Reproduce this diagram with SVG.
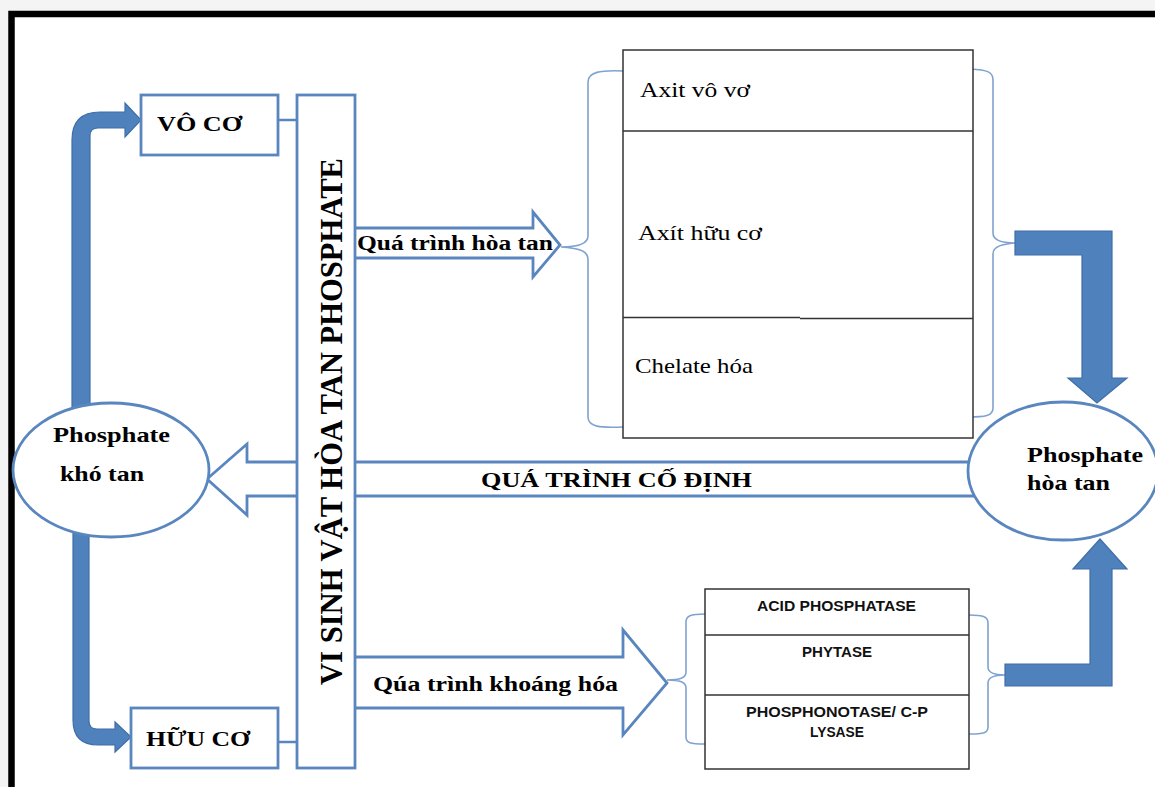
<svg xmlns="http://www.w3.org/2000/svg" width="1155" height="787" viewBox="0 0 1155 787">
  <style>
    .serif { font-family: "Liberation Serif", "Times New Roman", serif; fill: #000; }
    .b { font-weight: bold; }
    .sans { font-family: "Liberation Sans", Arial, sans-serif; font-weight: bold; font-size: 14px; fill: #111; }
    .box { fill: #fff; stroke: #5A86BF; stroke-width: 2.8; }
    .outline { fill: #fff; stroke: #5A86BF; stroke-width: 2.8; stroke-linejoin: miter; }
    .thick { fill: #4F81BD; stroke: #3F6FA8; stroke-width: 1.2; }
    .brace { fill: none; stroke: #7FA3D0; stroke-width: 1.6; }
    .table { fill: #fff; stroke: #333; stroke-width: 1.5; }
    .rule { stroke: #333; stroke-width: 1.5; }
    .link { stroke: #5A86BF; stroke-width: 2.5; }
  </style>

  <!-- page background and frame -->
  <rect x="0" y="0" width="1155" height="787" fill="#fff"/>
  <rect x="0" y="0" width="1155" height="11" fill="#f4f4f4"/>
  <rect x="0" y="0" width="8" height="787" fill="#f4f4f4"/>
  <path d="M11.5,787 L11.5,14 L1155,14" fill="none" stroke="#000" stroke-width="6.5"/>

  <g id="connectors">
    <!-- bent arrows from the insoluble pool to the two forms -->
    <path class="thick" d="M72,410 L72,140 Q72,112 100,112 L125,112 L125,103 L141,120 L125,137 L125,128 L98,128 Q90,128 90,136 L90,410 Z"/>
    <path class="thick" d="M73,530 L73,720 Q73,745 98,745 L115,745 L115,752 L131,737 L115,722 L115,729 L97,729 Q89,729 89,721 L89,530 Z"/>

    <!-- fixation arrow (soluble -> insoluble) -->
    <polygon class="outline" points="975,462 247,462 247,444 207,479 247,515 247,496 975,496"/>

    <!-- solubilisation arrow -->
    <polygon class="outline" points="352,228 533,228 533,212 560,245 533,277 533,258 352,258"/>

    <!-- mineralisation arrow -->
    <polygon class="outline" points="352,657 623,657 623,630 667,683 623,735 623,708 352,708"/>

    <!-- short links from the side boxes to the microbe column -->
    <line class="link" x1="278" y1="120" x2="298" y2="120"/>
    <line class="link" x1="278" y1="742" x2="298" y2="742"/>

    <!-- braces around the acid list -->
    <path class="brace" d="M623,71 C600,70 588,72 588,82 L588,236 C588,245 576,247 561,247 C576,248 588,250 588,259 L588,417 C588,427 600,428 623,427"/>
    <path class="brace" d="M970,69 C988,70 993,72 993,80 L993,233 C993,241 1003,243 1015,243 C1003,244 993,246 993,254 L993,408 C993,416 985,417 968,417"/>

    <!-- braces around the enzyme list -->
    <path class="brace" d="M705,614 C690,614 686,616 686,622 L686,672 C686,678 680,680 667,680 C680,680 686,682 686,688 L686,737 C686,743 690,744 705,744"/>
    <path class="brace" d="M969,615 C984,615 988,617 988,623 L988,667 C988,673 995,675 1005,675 C995,675 988,677 988,683 L988,727 C988,733 984,734 969,734"/>

    <!-- thick arrows into the soluble pool -->
    <polygon class="thick" points="1015,231 1112,231 1112,378 1127,378 1097,403 1068,378 1082,378 1082,255 1015,255"/>
    <polygon class="thick" points="1005,664 1090,664 1090,569 1073,569 1100,539 1127,569 1112,569 1112,686 1005,686"/>
  </g>

  <g id="vo-co">
    <rect class="box" x="141" y="95" width="137" height="60"/>
    <text class="serif b" x="157" y="131" font-size="21" textLength="85" lengthAdjust="spacingAndGlyphs">VÔ CƠ</text>
  </g>

  <g id="huu-co">
    <rect class="box" x="131" y="708" width="147" height="60"/>
    <text class="serif b" x="146" y="746" font-size="21" textLength="104" lengthAdjust="spacingAndGlyphs">HỮU CƠ</text>
  </g>

  <g id="vi-sinh-vat">
    <rect class="box" x="297" y="95" width="58" height="673"/>
    <text class="serif b" font-size="31" text-anchor="middle" textLength="527" lengthAdjust="spacingAndGlyphs" transform="translate(342,421.5) rotate(-90)">VI SINH VẬT HÒA TAN PHOSPHATE</text>
  </g>

  <g id="phosphate-kho-tan">
    <ellipse class="box" cx="111" cy="470" rx="98" ry="67"/>
    <text class="serif b" x="53" y="442" font-size="21" textLength="117" lengthAdjust="spacingAndGlyphs">Phosphate</text>
    <text class="serif b" x="60" y="481" font-size="21" textLength="84" lengthAdjust="spacingAndGlyphs">khó tan</text>
  </g>

  <g id="phosphate-hoa-tan">
    <ellipse class="box" cx="1063" cy="471" rx="95" ry="69"/>
    <text class="serif b" x="1027" y="462" font-size="21" textLength="116" lengthAdjust="spacingAndGlyphs">Phosphate</text>
    <text class="serif b" x="1027" y="490" font-size="21" textLength="83" lengthAdjust="spacingAndGlyphs">hòa tan</text>
  </g>

  <g id="labels">
    <text class="serif b" x="357" y="250" font-size="20" textLength="196" lengthAdjust="spacingAndGlyphs">Quá trình hòa tan</text>
    <text class="serif b" x="481" y="487" font-size="21" textLength="271" lengthAdjust="spacingAndGlyphs">QUÁ TRÌNH CỐ ĐỊNH</text>
    <text class="serif b" x="373" y="691" font-size="21" textLength="245" lengthAdjust="spacingAndGlyphs">Qúa trình khoáng hóa</text>
  </g>

  <g id="acid-list">
    <rect class="table" x="623" y="50" width="350" height="388"/>
    <line class="rule" x1="623" y1="131" x2="973" y2="131"/>
    <line class="rule" x1="623" y1="317.5" x2="800" y2="317.5"/>
    <line class="rule" x1="800" y1="318.5" x2="973" y2="318.5"/>
    <text class="serif" x="640" y="97" font-size="21" textLength="110" lengthAdjust="spacingAndGlyphs">Axit vô vơ</text>
    <text class="serif" x="638" y="240" font-size="21" textLength="124" lengthAdjust="spacingAndGlyphs">Axít hữu cơ</text>
    <text class="serif" x="635" y="373" font-size="21" textLength="118" lengthAdjust="spacingAndGlyphs">Chelate hóa</text>
  </g>

  <g id="enzyme-list">
    <rect class="table" x="705" y="589" width="264" height="180"/>
    <line class="rule" x1="705" y1="635" x2="969" y2="635"/>
    <line class="rule" x1="705" y1="695" x2="969" y2="695"/>
    <text class="sans" x="757" y="611" textLength="159" lengthAdjust="spacingAndGlyphs">ACID PHOSPHATASE</text>
    <text class="sans" x="802" y="657" textLength="70" lengthAdjust="spacingAndGlyphs">PHYTASE</text>
    <text class="sans" x="746" y="717" textLength="182" lengthAdjust="spacingAndGlyphs">PHOSPHONOTASE/ C-P</text>
    <text class="sans" x="810" y="737" textLength="54" lengthAdjust="spacingAndGlyphs">LYSASE</text>
  </g>
</svg>
